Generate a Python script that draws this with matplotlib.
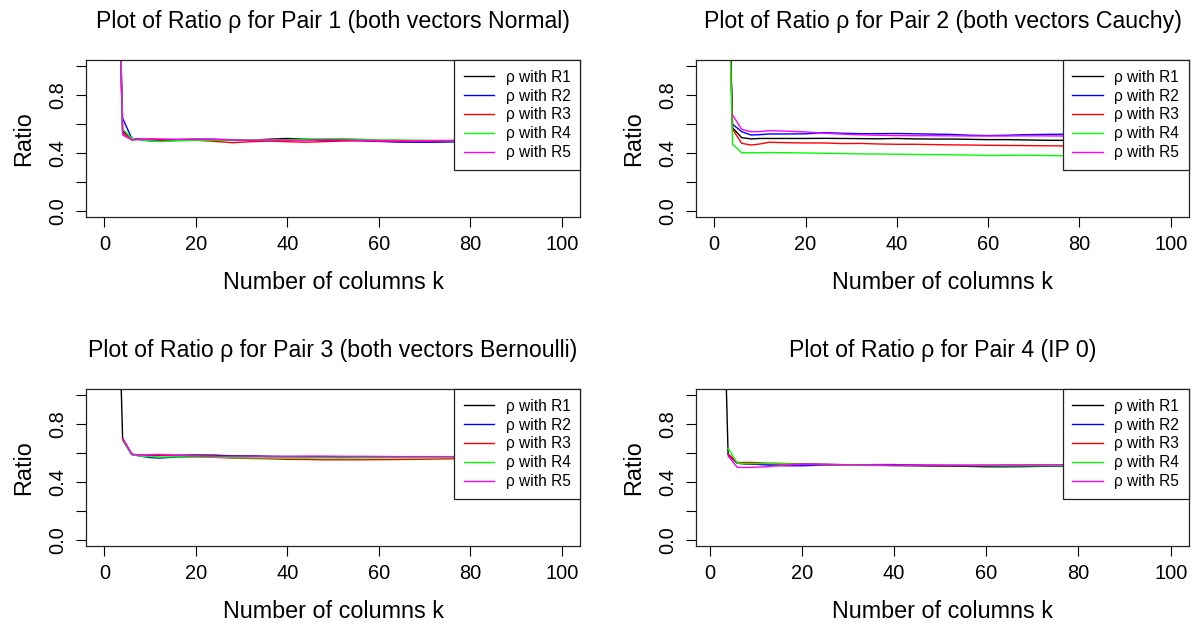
#!/usr/bin/env python3
"""Ratio rho vs number of columns k, four vector pairs (R base-graphics look)."""
import matplotlib

matplotlib.use("Agg")
import matplotlib.pyplot as plt
import numpy as np

plt.rcParams["font.family"] = ["Liberation Sans", "DejaVu Sans"]

nan = np.nan

# number of columns k
K = [2, 4, 6, 8, 10, 12, 16,
     20, 24, 28, 32, 36, 40, 44,
     48, 52, 56, 60, 64, 68, 72,
     76, 80, 84, 88, 92, 96, 100]

# Pair 1 (both vectors Normal)
P1_R1 = [3.0, 0.551, 0.500, 0.495, 0.490, 0.490, 0.490,
         0.492, 0.490, 0.488, 0.488, 0.495, 0.500, 0.495,
         0.490, 0.488, 0.488, 0.485, 0.485, 0.484, 0.482,
         0.482, 0.482, 0.481, 0.480, 0.480, 0.480, 0.480]
P1_R2 = [3.0, 0.639, 0.500, 0.490, 0.483, 0.483, 0.486,
         0.490, 0.492, 0.490, 0.486, 0.486, 0.490, 0.488,
         0.486, 0.488, 0.484, 0.480, 0.475, 0.474, 0.474,
         0.476, 0.478, 0.478, 0.478, 0.478, 0.478, 0.478]
P1_R3 = [3.0, 0.536, 0.490, 0.495, 0.495, 0.490, 0.490,
         0.488, 0.480, 0.471, 0.478, 0.482, 0.478, 0.474,
         0.478, 0.482, 0.485, 0.482, 0.480, 0.480, 0.482,
         0.485, 0.485, 0.485, 0.485, 0.485, 0.485, 0.485]
P1_R4 = [3.0, 0.565, 0.500, 0.490, 0.485, 0.478, 0.485,
         0.488, 0.488, 0.490, 0.492, 0.490, 0.492, 0.495,
         0.498, 0.500, 0.495, 0.490, 0.490, 0.488, 0.486,
         0.484, 0.484, 0.484, 0.484, 0.484, 0.484, 0.484]
P1_R5 = [3.0, 0.524, 0.490, 0.495, 0.498, 0.497, 0.495,
         0.498, 0.497, 0.490, 0.488, 0.490, 0.488, 0.486,
         0.490, 0.490, 0.488, 0.486, 0.485, 0.483, 0.486,
         0.487, 0.487, 0.487, 0.487, 0.487, 0.487, 0.487]

# Pair 2 (both vectors Cauchy)
P2_R1 = [3.0, 0.574, 0.506, 0.497, 0.500, 0.500, 0.500,
         0.500, 0.501, 0.500, 0.499, 0.498, 0.500, 0.497,
         0.496, 0.496, 0.494, 0.492, 0.492, 0.490, 0.488,
         0.487, 0.487, 0.487, 0.487, 0.487, 0.487, 0.487]
P2_R2 = [3.0, 0.598, 0.547, 0.524, 0.526, 0.531, 0.531,
         0.532, 0.540, 0.536, 0.533, 0.533, 0.534, 0.532,
         0.530, 0.528, 0.522, 0.520, 0.522, 0.526, 0.528,
         0.529, 0.529, 0.529, 0.529, 0.529, 0.529, 0.529]
P2_R3 = [3.0, 0.565, 0.467, 0.455, 0.462, 0.474, 0.471,
         0.469, 0.469, 0.465, 0.466, 0.462, 0.460, 0.460,
         0.458, 0.456, 0.455, 0.453, 0.452, 0.451, 0.450,
         0.449, 0.449, 0.449, 0.449, 0.449, 0.449, 0.449]
P2_R4 = [3.0, 0.460, 0.402, 0.402, 0.402, 0.403, 0.402,
         0.400, 0.398, 0.396, 0.394, 0.393, 0.392, 0.390,
         0.389, 0.388, 0.386, 0.383, 0.384, 0.385, 0.383,
         0.381, 0.381, 0.381, 0.381, 0.381, 0.381, 0.381]
P2_R5 = [nan, 0.662, 0.563, 0.547, 0.547, 0.554, 0.550,
         0.545, 0.536, 0.530, 0.525, 0.522, 0.520, 0.519,
         0.519, 0.518, 0.517, 0.517, 0.517, 0.518, 0.518,
         0.517, 0.517, 0.517, 0.517, 0.517, 0.517, 0.517]

# Pair 3 (both vectors Bernoulli)
P3_R1 = [3.0, 0.690, 0.590, 0.585, 0.582, 0.583, 0.584,
         0.586, 0.585, 0.580, 0.578, 0.576, 0.574, 0.574,
         0.573, 0.572, 0.572, 0.571, 0.570, 0.570, 0.570,
         0.570, 0.570, 0.570, 0.570, 0.570, 0.570, 0.570]
P3_R2 = [nan, 0.700, 0.590, 0.578, 0.568, 0.565, 0.572,
         0.575, 0.576, 0.577, 0.578, 0.576, 0.576, 0.575,
         0.575, 0.574, 0.573, 0.573, 0.572, 0.572, 0.572,
         0.572, 0.572, 0.572, 0.572, 0.572, 0.572, 0.572]
P3_R3 = [nan, 0.700, 0.592, 0.582, 0.585, 0.586, 0.580,
         0.575, 0.570, 0.565, 0.562, 0.560, 0.556, 0.555,
         0.553, 0.553, 0.553, 0.554, 0.555, 0.556, 0.558,
         0.560, 0.560, 0.560, 0.560, 0.560, 0.560, 0.560]
P3_R4 = [nan, 0.685, 0.588, 0.578, 0.575, 0.572, 0.573,
         0.572, 0.572, 0.568, 0.566, 0.566, 0.565, 0.565,
         0.566, 0.565, 0.566, 0.566, 0.567, 0.567, 0.568,
         0.568, 0.568, 0.568, 0.568, 0.568, 0.568, 0.568]
P3_R5 = [nan, 0.695, 0.590, 0.585, 0.588, 0.590, 0.585,
         0.580, 0.578, 0.577, 0.576, 0.576, 0.576, 0.578,
         0.578, 0.577, 0.577, 0.576, 0.575, 0.575, 0.575,
         0.575, 0.575, 0.575, 0.575, 0.575, 0.575, 0.575]

# Pair 4 (IP 0)
P4_R1 = [3.0, 0.591, 0.529, 0.525, 0.525, 0.525, 0.524,
         0.524, 0.522, 0.520, 0.518, 0.516, 0.514, 0.512,
         0.510, 0.510, 0.508, 0.505, 0.505, 0.506, 0.508,
         0.510, 0.510, 0.510, 0.510, 0.510, 0.510, 0.510]
P4_R2 = [nan, 0.590, 0.529, 0.526, 0.522, 0.518, 0.512,
         0.512, 0.516, 0.518, 0.518, 0.520, 0.520, 0.518,
         0.516, 0.515, 0.514, 0.513, 0.512, 0.513, 0.514,
         0.514, 0.514, 0.514, 0.514, 0.514, 0.514, 0.514]
P4_R3 = [nan, 0.590, 0.534, 0.535, 0.534, 0.530, 0.528,
         0.524, 0.520, 0.518, 0.515, 0.514, 0.514, 0.515,
         0.514, 0.513, 0.513, 0.514, 0.515, 0.516, 0.516,
         0.516, 0.516, 0.516, 0.516, 0.516, 0.516, 0.516]
P4_R4 = [nan, 0.632, 0.529, 0.527, 0.527, 0.528, 0.526,
         0.522, 0.520, 0.518, 0.516, 0.515, 0.514, 0.514,
         0.514, 0.515, 0.514, 0.513, 0.512, 0.512, 0.512,
         0.513, 0.513, 0.513, 0.513, 0.513, 0.513, 0.513]
P4_R5 = [nan, 0.579, 0.501, 0.500, 0.502, 0.505, 0.515,
         0.522, 0.522, 0.520, 0.518, 0.516, 0.514, 0.515,
         0.515, 0.515, 0.516, 0.517, 0.518, 0.518, 0.518,
         0.519, 0.519, 0.519, 0.519, 0.519, 0.519, 0.519]

TITLES = [
    "Plot of Ratio \u03c1 for Pair 1 (both vectors Normal)",
    "Plot of Ratio \u03c1 for Pair 2 (both vectors Cauchy)",
    "Plot of Ratio \u03c1 for Pair 3 (both vectors Bernoulli)",
    "Plot of Ratio \u03c1 for Pair 4 (IP 0)",
]
SERIES = [
    [P1_R1, P1_R2, P1_R3, P1_R4, P1_R5],
    [P2_R1, P2_R2, P2_R3, P2_R4, P2_R5],
    [P3_R1, P3_R2, P3_R3, P3_R4, P3_R5],
    [P4_R1, P4_R2, P4_R3, P4_R4, P4_R5],
]
LABELS = ["\u03c1 with R1", "\u03c1 with R2", "\u03c1 with R3", "\u03c1 with R4", "\u03c1 with R5"]
COLORS = ["#000000", "#0000ff", "#ff0000", "#00ff00", "#ff00ff"]
XLIMS = [(-4, 104), (-4, 104), (-4, 104), (-2.96, 103.96)]

# axes rectangles in figure fraction (left, bottom, width, height)
RECTS = [
    (0.0717, 0.6534, 0.4117, 0.2508),
    (0.5800, 0.6534, 0.4108, 0.2508),
    (0.0717, 0.1278, 0.4117, 0.2508),
    (0.5800, 0.1278, 0.4108, 0.2508),
]


def draw_panel(ax, title, series, xlim):
    for y, c, lab in zip(series, COLORS, LABELS):
        ax.plot(K, y, color=c, lw=1.0, label=lab)
    ax.set_xlim(*xlim)
    ax.set_ylim(-0.04, 1.04)
    ax.set_xticks([0, 20, 40, 60, 80, 100])
    ax.set_yticks([0.0, 0.2, 0.4, 0.6, 0.8, 1.0])
    ax.set_yticklabels(["0.0", "", "0.4", "", "0.8", ""])
    ax.tick_params(length=7.2, width=0.8, labelsize=14.4, pad=6)
    ax.tick_params(axis="y", labelrotation=90)
    for lbl in ax.get_yticklabels():
        lbl.set_va("center")
    for s in ax.spines.values():
        s.set_color("#222222")
        s.set_linewidth(0.9)
    ax.set_title(title, fontsize=16.7, pad=23)
    ax.set_xlabel("Number of columns k", fontsize=16.8, labelpad=12)
    ax.set_ylabel("Ratio", fontsize=16.8, labelpad=10)
    leg = ax.legend(loc="upper right", borderaxespad=0, fontsize=11.2,
                    frameon=True, fancybox=False, framealpha=1,
                    edgecolor="#222222", handlelength=1.95,
                    handletextpad=0.75, labelspacing=0.25, borderpad=0.62)
    leg.get_frame().set_linewidth(0.9)


fig = plt.figure(figsize=(12, 6.26), dpi=100)
for rect, title, series, xlim in zip(RECTS, TITLES, SERIES, XLIMS):
    ax = fig.add_axes(rect)
    draw_panel(ax, title, series, xlim)

fig.savefig("out.png", dpi=100, facecolor="white")
